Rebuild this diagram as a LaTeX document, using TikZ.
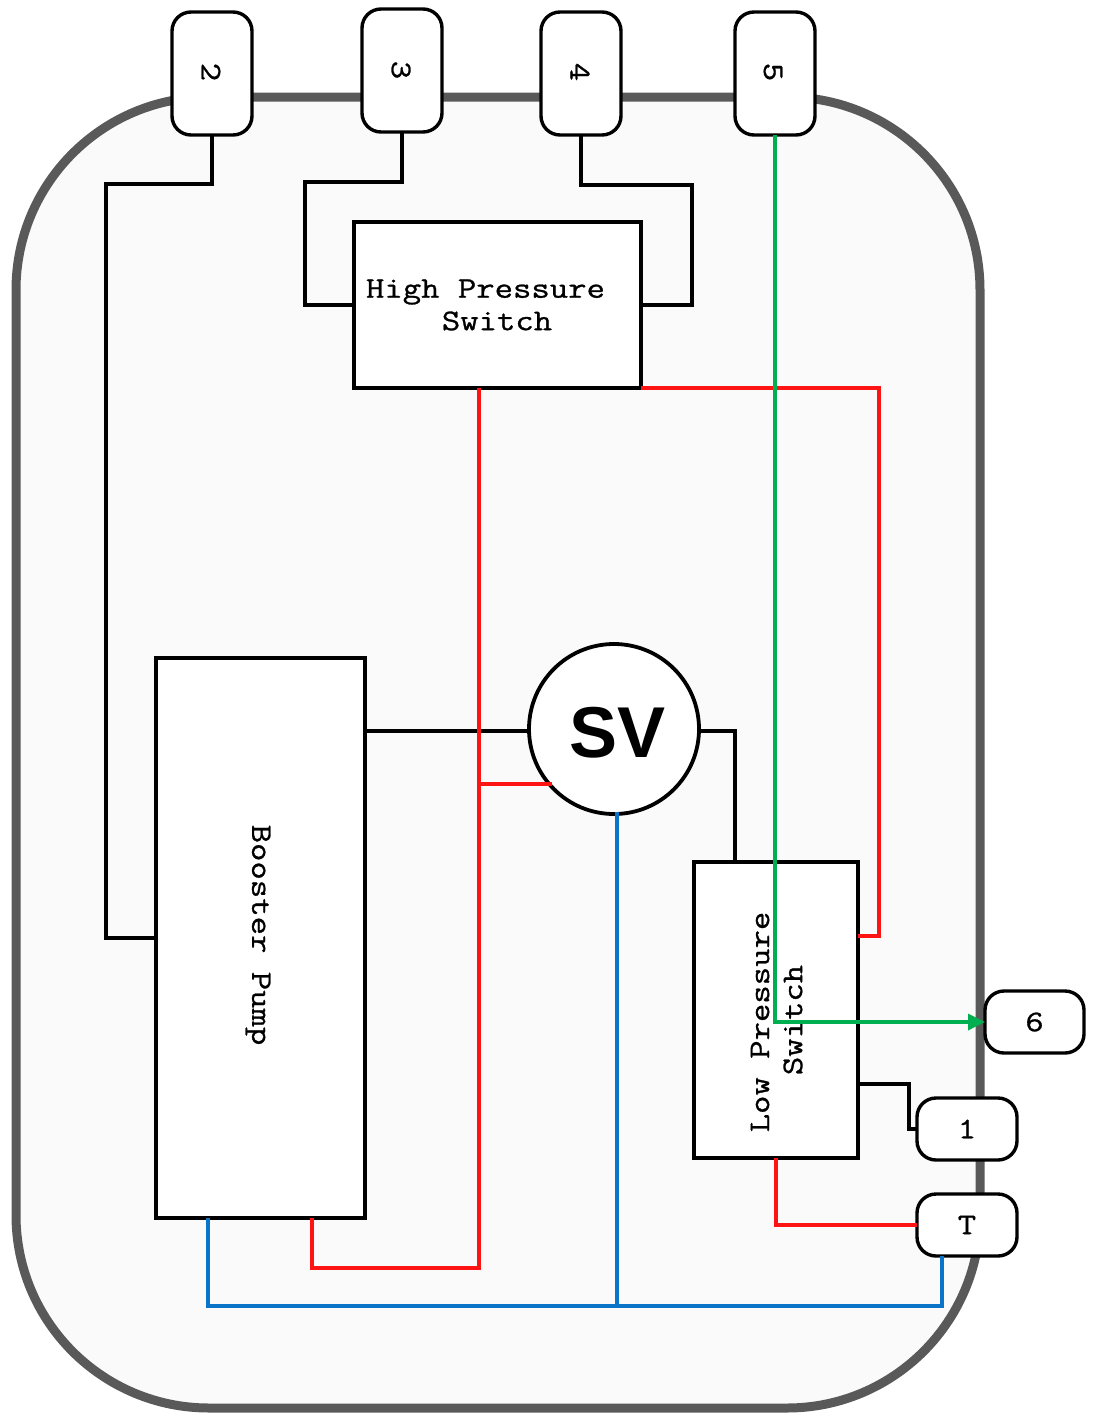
\documentclass[tikz,border=0pt]{standalone}
\usepackage{fontspec}
\setmainfont{Liberation Sans}
\newfontfamily\monofam[FakeStretch=1.19,FakeBold=0.9]{Latin Modern Mono}
\usetikzlibrary{arrows.meta}
\definecolor{wred}{HTML}{FF1414}
\definecolor{wgreen}{HTML}{00B050}
\definecolor{wblue}{HTML}{0A74C8}
\definecolor{wgrey}{HTML}{595959}
\definecolor{wpanel}{HTML}{FAFAFA}
\tikzset{
  x=1pt,y=-1pt,
  boxnode/.style={draw=black,line width=3.4pt,fill=white,inner sep=0pt,outer sep=0pt,minimum width=#1},
  pin/.style={draw=black,line width=3.4pt,fill=white,rounded corners=19pt,inner sep=0pt,outer sep=0pt,font=\monofam\fontsize{30}{32}\selectfont},
  txt/.style={inner sep=0pt,outer sep=0pt,font=\monofam\fontsize{30}{32}\selectfont,align=center},
  wire/.style={line width=3.4pt,draw=#1,line join=miter},
  wire/.default={black}
}
\begin{document}
\begin{tikzpicture}
\useasboundingbox (0,0) rectangle (1097,1416);
\draw[draw=wgrey,fill=wpanel,line width=9pt,rounded corners=193pt] (16,97) rectangle (980,1408);

% boxes
\node[boxnode=287pt,minimum height=166pt] (hp) at (497.5,305) {};
\node[boxnode=209pt,minimum height=560pt] (bp) at (260.5,938) {};
\node[boxnode=164pt,minimum height=296pt] (lp) at (776,1010) {};
\node[draw=black,line width=3.8pt,fill=white,circle,inner sep=0pt,outer sep=0pt,minimum size=170pt] (sv) at (614,729) {};

% pins
\node[pin,minimum width=80pt,minimum height=123pt] (p2) at (212,73.5) {};
\node[pin,minimum width=80pt,minimum height=123pt] (p3) at (402,70.5) {};
\node[pin,minimum width=80pt,minimum height=123pt] (p4) at (581,73.5) {};
\node[pin,minimum width=80pt,minimum height=123pt] (p5) at (775,73.5) {};
\node[pin,minimum width=99pt,minimum height=62pt] (p6) at (1034.5,1022) {6};
\node[pin,minimum width=100pt,minimum height=62pt] (p1) at (967,1129) {1};
\node[pin,minimum width=100pt,minimum height=62pt] (pT) at (967,1225) {T};

% black wires
\draw[wire] (p2.south) -- (212,184) -- (106,184) -- (106,938) -- (bp.west);
\draw[wire] (p3.south) -- (402,182) -- (305,182) -- (305,305) -- (hp.west);
\draw[wire] (p4.south) -- (581,185) -- (692,185) -- (692,305) -- (hp.east);
\draw[wire] (bp.east |- sv.west) ++(0,2) -- (sv.west |- 0,731);
\draw[wire] (sv.east |- 0,731) -- (735,731) -- (735,862);
\draw[wire] (lp.east |- 0,1084) -- (909,1084) -- (909,1129) -- (p1.west);

% red wires
\draw[wire=wred] (479,388) -- (479,1268) -- (312,1268) -- (312,1218);
\draw[wire=wred] (hp.south east) -- (879,388) -- (879,936) -- (lp.east |- 0,936);
\draw[wire=wred] (479,784) -- (552,784);
\draw[wire=wred] (lp.south) -- (776,1225) -- (pT.west);

% blue wires
\draw[wire=wblue] (208,1218) -- (208,1306) -- (942,1306) -- (942,1256);
\draw[wire=wblue] (617,812) -- (617,1306);

% labels
\node[txt] (hptxt) at (485.5,292) {High Pressure};
\node[txt] (hptxt2) at (497,321) {Switch};
\node[txt,rotate=-90] (bptxt) at (258,935) {Booster Pump};
\node[txt,rotate=90] (lptxt) at (760,1022) {Low Pressure};
\node[txt,rotate=90] (lptxt2) at (793,1020) {Switch};
\node[txt,rotate=-90] (t2) at (211,72) {2};
\node[txt,rotate=-90] (t3) at (401,70) {3};
\node[txt,rotate=-90] (t4) at (580,72) {4};
\node[txt,rotate=-90] (t5) at (773,72) {5};
\node[inner sep=0pt,font=\bfseries\fontsize{72}{72}\selectfont] (svtxt) at (617.5,733) {SV};

% green wire on top
\draw[wire=wgreen,-{Triangle[length=17pt,width=16pt]}] (p5.south) -- (775,1022) -- (p6.west);
\end{tikzpicture}
\end{document}
